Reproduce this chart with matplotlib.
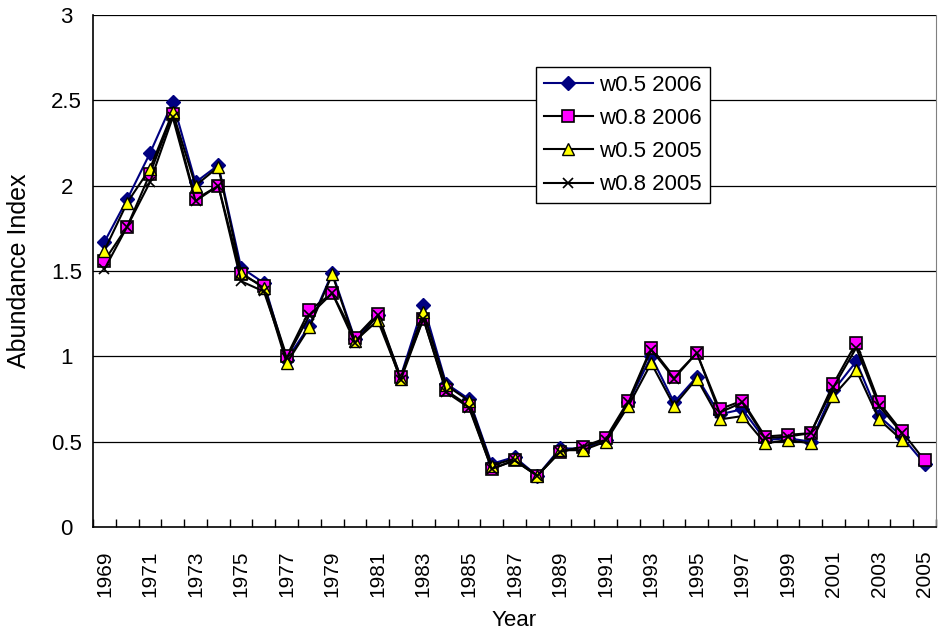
import matplotlib
matplotlib.use("Agg")
import matplotlib.pyplot as plt
import numpy as np

plt.rcParams['font.family'] = ['Liberation Sans', 'DejaVu Sans']

years = list(range(1969, 2006))

w05_2006 = [1.67, 1.92, 2.19, 2.49, 2.02, 2.12, 1.52, 1.43, 0.98, 1.18,
            1.49, 1.10, 1.24, 0.88, 1.30, 0.84, 0.75, 0.37, 0.41, 0.30,
            0.46, 0.46, 0.51, 0.73, 1.00, 0.73, 0.88, 0.66, 0.69, 0.51,
            0.52, 0.50, 0.80, 0.97, 0.65, 0.53, 0.37]
w08_2006 = [1.56, 1.76, 2.07, 2.42, 1.92, 2.00, 1.48, 1.41, 1.00, 1.27,
            1.37, 1.11, 1.25, 0.88, 1.22, 0.80, 0.71, 0.34, 0.39, 0.30,
            0.44, 0.47, 0.52, 0.74, 1.05, 0.88, 1.02, 0.69, 0.74, 0.53,
            0.54, 0.55, 0.84, 1.08, 0.73, 0.56, 0.39]
w05_2005 = [1.62, 1.90, 2.10, 2.43, 2.00, 2.11, 1.49, 1.40, 0.96, 1.17,
            1.48, 1.09, 1.21, 0.87, 1.26, 0.83, 0.74, 0.36, 0.40, 0.30,
            0.45, 0.45, 0.50, 0.71, 0.96, 0.71, 0.87, 0.63, 0.65, 0.49,
            0.51, 0.49, 0.77, 0.92, 0.63, 0.51]
w08_2005 = [1.51, 1.76, 2.02, 2.40, 1.91, 2.00, 1.44, 1.38, 0.99, 1.24,
            1.37, 1.08, 1.24, 0.86, 1.22, 0.79, 0.70, 0.34, 0.39, 0.30,
            0.44, 0.47, 0.51, 0.73, 1.04, 0.87, 1.02, 0.67, 0.73, 0.52,
            0.53, 0.55, 0.82, 1.05, 0.71, 0.55]

y_ticks = [0, 0.5, 1, 1.5, 2, 2.5, 3]
y_tick_labels = ["0", "0.5", "1", "1.5", "2", "2.5", "3"]

FS = 16

fig = plt.figure(figsize=(9.38, 6.35), dpi=100)
ax = fig.add_axes([93 / 938, 1 - 527 / 635, (936 - 93) / 938, (527 - 15) / 635])

idx = np.arange(len(years))

ax.plot(idx[:len(w05_2006)], w05_2006, color='#000080', lw=1.5, marker='D',
        ms=7, mfc='#000080', mec='#000080', label='w0.5 2006', zorder=3)
ax.plot(idx[:len(w08_2006)], w08_2006, color='black', lw=1.5, marker='s',
        ms=8, mfc='#FF00FF', mec='black', mew=1.2, label='w0.8 2006', zorder=4)
ax.plot(idx[:len(w05_2005)], w05_2005, color='black', lw=1.5, marker='^',
        ms=8.5, mfc='#FFFF00', mec='black', mew=1.0, label='w0.5 2005', zorder=5)
ax.plot(idx[:len(w08_2005)], w08_2005, color='black', lw=1.5, marker='x',
        ms=7, mec='black', mew=1.2, label='w0.8 2005', zorder=6)

ax.set_xlim(-0.5, len(years) - 0.5)
ax.set_ylim(0, 3)

# horizontal gridlines
for v in y_ticks[1:]:
    ax.axhline(v, color='black', lw=0.9, zorder=1)

ax.set_yticks(y_ticks)
ax.set_yticklabels(y_tick_labels, fontsize=FS, ha='center')
ax.tick_params(axis='y', length=0, pad=19)

# category boundaries carry the tick marks, every other category carries a label
ax.set_xticks(np.arange(-0.5, len(years), 1.0))
ax.set_xticklabels([])
ax.tick_params(axis='x', which='major', direction='in', length=6, width=1)
label_idx = idx[::2]
ax.set_xticks(label_idx, minor=True)
ax.set_xticklabels([str(years[i]) for i in label_idx], minor=True,
                   rotation=90, fontsize=15)
ax.tick_params(axis='x', which='minor', length=0, pad=17)

ax.spines['top'].set_visible(False)
ax.spines['right'].set_color('#808080')
ax.spines['left'].set_linewidth(1.2)
ax.spines['bottom'].set_linewidth(1.2)

ax.set_xlabel('Year', fontsize=FS)
ax.xaxis.set_label_coords(0.5, (527 - 610) / 512, transform=ax.transAxes)
ax.set_ylabel('Abundance Index', fontsize=18)
ax.yaxis.set_label_coords((31 - 93) / 843, 0.5, transform=ax.transAxes)

leg = ax.legend(loc='upper left', bbox_to_anchor=(536 / 938, 1 - 67 / 635),
                bbox_transform=fig.transFigure, fontsize=FS, frameon=True,
                fancybox=False, edgecolor='black', framealpha=1,
                handlelength=2.2, borderpad=0.35, labelspacing=0.55,
                handletextpad=0.3, borderaxespad=0)
leg.get_frame().set_linewidth(1.0)
leg.set_zorder(10)

fig.savefig('out.png', dpi=100)
